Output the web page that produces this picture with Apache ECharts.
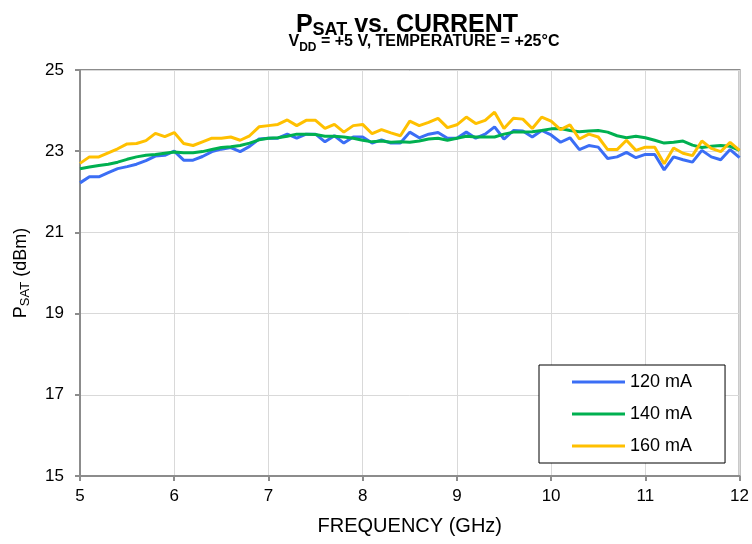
<!DOCTYPE html>
<html>
<head>
<meta charset="utf-8">
<script src="https://cdn.jsdelivr.net/npm/echarts@6/dist/echarts.min.js"></script>
<style>
html,body{margin:0;padding:0;background:#fff;}
#chart{width:752px;height:544px;}
</style>
</head>
<body>
<div id="chart"></div>
<script>
var frequencies = [5.0,5.1,5.2,5.3,5.4,5.5,5.6,5.7,5.8,5.9,
  6.0,6.1,6.2,6.3,6.4,6.5,6.6,6.7,6.8,6.9,
  7.0,7.1,7.2,7.3,7.4,7.5,7.6,7.7,7.8,7.9,
  8.0,8.1,8.2,8.3,8.4,8.5,8.6,8.7,8.8,8.9,
  9.0,9.1,9.2,9.3,9.4,9.5,9.6,9.7,9.8,9.9,
  10.0,10.1,10.2,10.3,10.4,10.5,10.6,10.7,10.8,10.9,
  11.0,11.1,11.2,11.3,11.4,11.5,11.6,11.7,11.8,11.9,12.0];

var psat120 = [22.22,22.37,22.37,22.47,22.57,22.62,22.68,22.77,22.88,22.90,
  23.00,22.78,22.78,22.87,22.99,23.05,23.09,22.99,23.12,23.30,
  23.32,23.32,23.42,23.32,23.42,23.42,23.23,23.38,23.20,23.35,
  23.35,23.20,23.28,23.20,23.20,23.47,23.33,23.42,23.46,23.32,
  23.32,23.47,23.32,23.42,23.60,23.30,23.51,23.50,23.35,23.51,
  23.40,23.22,23.33,23.04,23.14,23.10,22.82,22.86,22.97,22.84,
  22.92,22.92,22.54,22.86,22.79,22.73,23.02,22.86,22.79,23.04,22.84];

var psat140 = [22.57,22.61,22.65,22.68,22.73,22.80,22.86,22.90,22.92,22.95,
  22.98,22.96,22.96,22.99,23.04,23.09,23.11,23.14,23.20,23.28,
  23.32,23.33,23.37,23.42,23.42,23.41,23.37,23.37,23.35,23.32,
  23.27,23.23,23.25,23.22,23.23,23.22,23.25,23.30,23.32,23.27,
  23.32,23.37,23.35,23.35,23.35,23.42,23.47,23.47,23.48,23.51,
  23.55,23.56,23.51,23.48,23.50,23.51,23.47,23.38,23.33,23.37,
  23.33,23.27,23.20,23.22,23.25,23.15,23.09,23.12,23.14,23.12,23.02];

var psat160 = [22.70,22.86,22.86,22.96,23.06,23.18,23.19,23.26,23.44,23.36,
  23.46,23.19,23.14,23.23,23.32,23.32,23.35,23.27,23.38,23.60,
  23.63,23.66,23.77,23.63,23.76,23.76,23.56,23.66,23.47,23.63,
  23.66,23.43,23.53,23.45,23.38,23.74,23.63,23.71,23.81,23.58,
  23.65,23.84,23.68,23.76,23.96,23.56,23.81,23.79,23.56,23.84,
  23.74,23.53,23.65,23.30,23.42,23.35,23.04,23.04,23.27,23.02,
  23.10,23.10,22.69,23.08,22.95,22.89,23.25,23.07,22.99,23.22,23.02];

var seriesNames = ['120 mA','140 mA','160 mA'];
var seriesColors = ['#3b6ef5','#00b050','#ffc000'];

function pairs(vals){ return frequencies.map(function(f,i){ return [f, vals[i]]; }); }

var FONT = '"Liberation Sans", Arial, sans-serif';
var chart = echarts.init(document.getElementById('chart'), null, {renderer:'canvas'});

var allVals = [psat120, psat140, psat160];
var series = allVals.map(function(v, k){
  return {
    name: seriesNames[k],
    type: 'line',
    data: pairs(v),
    symbol: 'none',
    smooth: false,
    color: seriesColors[k],
    itemStyle: {color: seriesColors[k]},
    lineStyle: {width: 3, color: seriesColors[k]}
  };
});

chart.setOption({
  animation: false,
  backgroundColor: '#ffffff',
  textStyle: {fontFamily: FONT},
  title: [{
    text: '{a|P}{b|SAT}{a| vs. CURRENT}',
    left: 402, top: 6, textAlign: 'center',
    textStyle: {
      rich: {
        a: {fontFamily: FONT, fontSize: 25, fontWeight: 'bold', color: '#000', lineHeight: 28},
        b: {fontFamily: FONT, fontSize: 18, fontWeight: 'bold', color: '#000', lineHeight: 18, verticalAlign: 'bottom'}
      }
    }
  },{
    text: '{a|V}{b|DD}{a| = +5 V, TEMPERATURE = +25°C}',
    left: 419, top: 28, textAlign: 'center',
    textStyle: {
      rich: {
        a: {fontFamily: FONT, fontSize: 16, fontWeight: 'bold', color: '#000', lineHeight: 18},
        b: {fontFamily: FONT, fontSize: 12, fontWeight: 'bold', color: '#000', lineHeight: 12, verticalAlign: 'bottom', padding: [0,0,-3,0]}
      }
    }
  }],
  legend: {
    orient: 'vertical',
    left: 539, top: 365,
    data: seriesNames,
    icon: 'rect',
    itemWidth: 53, itemHeight: 3, itemGap: 14,
    padding: [8, 33, 8, 33],
    borderColor: '#000', borderWidth: 1,
    backgroundColor: '#fff',
    textStyle: {fontFamily: FONT, fontSize: 18, color: '#000', lineHeight: 18}
  },
  grid: {
    left: 80, right: 11, top: 70, bottom: 68,
    show: true, borderColor: '#8c8c8c', borderWidth: 2, containLabel: false
  },
  xAxis: {
    type: 'value', min: 5, max: 12, interval: 1,
    name: 'FREQUENCY (GHz)', nameLocation: 'middle', nameGap: 40,
    nameTextStyle: {fontFamily: FONT, fontSize: 20, color: '#000'},
    axisLine: {show: true, lineStyle: {color: '#8c8c8c', width: 2}},
    axisTick: {show: true, inside: false, length: 5, lineStyle: {color: '#8c8c8c', width: 2}},
    axisLabel: {fontFamily: FONT, fontSize: 17, color: '#000', margin: 12},
    splitLine: {show: true, lineStyle: {color: '#d9d9d9', width: 1}}
  },
  yAxis: {
    type: 'value', min: 15, max: 25, interval: 2,
    name: '{a|P}{b|SAT}{a| (dBm)}', nameLocation: 'middle', nameGap: 48,
    nameTextStyle: {
      rich: {
        a: {fontFamily: FONT, fontSize: 18, color: '#000', lineHeight: 22},
        b: {fontFamily: FONT, fontSize: 13, color: '#000', lineHeight: 13, verticalAlign: 'bottom'}
      }
    },
    axisLine: {show: true, lineStyle: {color: '#8c8c8c', width: 2}},
    axisTick: {show: true, inside: false, length: 5, lineStyle: {color: '#8c8c8c', width: 2}},
    axisLabel: {fontFamily: FONT, fontSize: 17, color: '#000', margin: 16},
    splitLine: {show: true, lineStyle: {color: '#d9d9d9', width: 1}}
  },
  series: series
});
</script>
</body>
</html>
